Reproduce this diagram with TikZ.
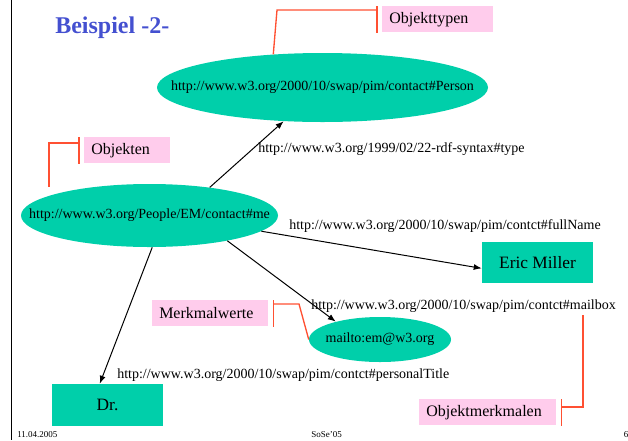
\documentclass[tikz,border=0pt]{standalone}
\usepackage{fontspec}
\setmainfont{Liberation Serif}
\usetikzlibrary{shapes.geometric,arrows.meta}

\definecolor{nodegreen}{RGB}{0,207,170}
\definecolor{notepink}{RGB}{255,204,236}
\definecolor{calloutred}{RGB}{255,80,50}
\definecolor{titleblue}{RGB}{68,80,208}

\begin{document}
\begin{tikzpicture}[x=0.75pt,y=-0.75pt,
  uri/.style={ellipse, fill=nodegreen, inner sep=0pt, font=\fontsize{10.5}{12}\selectfont},
  literal/.style={rectangle, fill=nodegreen, inner sep=0pt, font=\fontsize{13}{15}\selectfont},
  note/.style={rectangle, fill=notepink, inner xsep=5.25pt, inner ysep=0pt,
    minimum height=19.5pt, align=left, anchor=north west, font=\fontsize{12}{14}\selectfont},
  prop/.style={anchor=west, inner sep=0pt, font=\fontsize{10.5}{12}\selectfont},
  rel/.style={draw=black, line width=0.75pt, -{Latex[length=6pt,width=4.5pt]}},
  callout/.style={draw=calloutred, line width=1pt},
  footer/.style={anchor=base west, inner sep=0pt, font=\fontsize{6.75}{8}\selectfont}]

\useasboundingbox (0,0) rectangle (628,440);

% slide frame edge
\draw[line width=1.1pt] (11.5,0) -- (11.5,440);

% title
\node[anchor=base west, inner sep=0pt, font=\fontsize{18}{20}\selectfont\bfseries, text=titleblue]
  (title) at (55,33) {Beispiel -2-};

% resources and literals
\node[uri, minimum width=248.25pt, minimum height=51.75pt] (person) at (322.5,87.5)
  {\makebox[0pt]{http://www.w3.org/2000/10/swap/pim/contact\#Person}};
\node[uri, minimum width=192.75pt, minimum height=47.25pt] (me) at (149.5,215.5)
  {\makebox[0pt]{http://www.w3.org/People/EM/contact\#me}};
\node[uri, minimum width=106.5pt, minimum height=33.75pt] (mail) at (380,339.5)
  {\makebox[0pt]{mailto:em@w3.org}};
\node[literal, minimum width=83.25pt, minimum height=30.75pt] (eric) at (537.5,262.5) {Eric Miller};
\node[literal, minimum width=83.25pt, minimum height=31.5pt] (dr) at (107.5,405) {Dr.};

% property labels
\node[prop] (typelbl) at (258,149) {http://www.w3.org/1999/02/22-rdf-syntax\#type};
\node[prop] (fulllbl) at (289,226) {http://www.w3.org/2000/10/swap/pim/contct\#fullName};
\node[prop] (maillbl) at (311,306) {http://www.w3.org/2000/10/swap/pim/contct\#mailbox};
\node[prop] (titlelbl) at (117,375) {http://www.w3.org/2000/10/swap/pim/contct\#personalTitle};

% statements
\draw[rel] (me.25) -- (person.221);
\draw[rel] (me.-8) -- (eric.186);
\draw[rel] (me.-18) -- (mail.158);
\draw[rel] (me.-85) -- (dr.110);

% annotation boxes
\node[note, text width=72.75pt] (typen) at (382,6) {Objekttypen};
\node[note, text width=54pt] (objekten) at (84,137) {Objekten};
\node[note, text width=76.5pt] (werte) at (152,300) {Merkmalwerte};
\node[note, text width=92.25pt] (merkmale) at (419,399) {Objektmerkmalen};

% annotation leaders
\coordinate (objektenend) at (49,187);
\coordinate (merkmaleend) at (583,315);

\draw[callout] ([xshift=-3.75pt]typen.north west) -- ([xshift=-3.75pt]typen.south west);
\draw[callout] ([xshift=-3.75pt,yshift=-3pt]typen.north west) -- (277,10) -- (person.146);

\draw[callout] ([xshift=-3.75pt]objekten.north west) -- ([xshift=-3.75pt]objekten.south west);
\draw[callout] ([xshift=-3.75pt,yshift=-4.5pt]objekten.north west) -- (49,143) -- (objektenend);

\draw[callout] ([xshift=3.75pt]werte.north east) -- ([xshift=3.75pt]werte.south east);
\draw[callout] ([xshift=3.75pt,yshift=-3pt]werte.north east) -- (299,304) -- (mail.west);

\draw[callout] ([xshift=3.75pt]merkmale.north east) -- ([xshift=3.75pt]merkmale.south east);
\draw[callout] ([xshift=3.75pt,yshift=-6pt]merkmale.north east) -- (583,407) -- (merkmaleend);

% footer
\node[footer] (date) at (17,437) {11.04.2005};
\node[footer] (term) at (311,437) {SoSe'05};
\node[footer] (page) at (623.5,437) {6};
\end{tikzpicture}
\end{document}
